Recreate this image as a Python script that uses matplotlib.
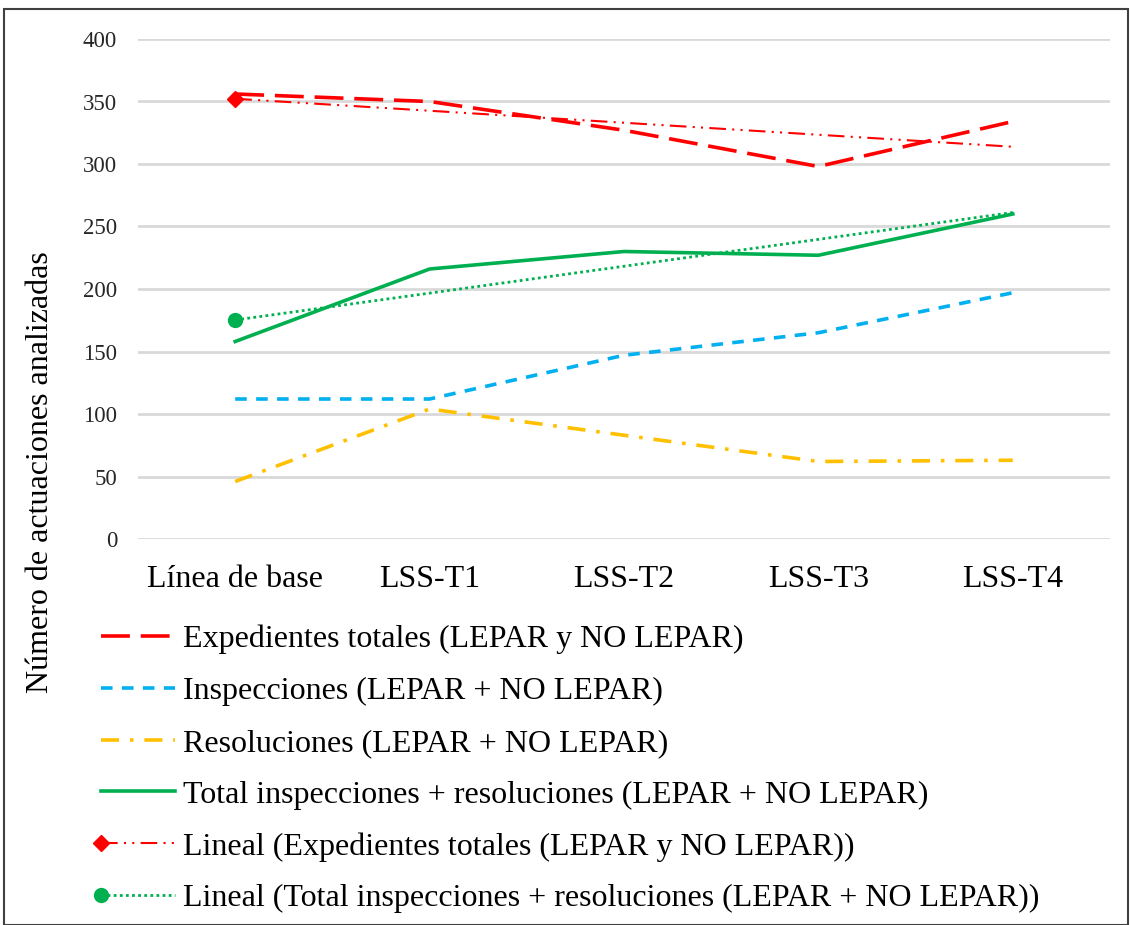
import numpy as np
import matplotlib
matplotlib.use("Agg")
import matplotlib.pyplot as plt
from matplotlib.patches import Rectangle
from matplotlib.legend_handler import HandlerLine2D

categories = ["Línea de base", "LSS-T1", "LSS-T2", "LSS-T3", "LSS-T4"]
expedientes = [356, 350, 327, 298, 334]
inspecciones = [112, 112, 147, 165, 197]
resoluciones = [46, 104, 83, 62, 63]
total = [158, 216, 230, 227, 260]
yticks = [0, 50, 100, 150, 200, 250, 300, 350, 400]

labels = [
    "Expedientes totales (LEPAR y NO LEPAR)",
    "Inspecciones (LEPAR + NO LEPAR)",
    "Resoluciones (LEPAR + NO LEPAR)",
    "Total inspecciones + resoluciones (LEPAR + NO LEPAR)",
    "Lineal (Expedientes totales (LEPAR y NO LEPAR))",
    "Lineal (Total inspecciones + resoluciones (LEPAR + NO LEPAR))",
]

plt.rcParams['font.family'] = ['Liberation Serif', 'DejaVu Serif']


class FirstMarkerHandler(HandlerLine2D):
    def create_artists(self, legend, orig_handle, xdescent, ydescent, width,
                       height, fontsize, trans):
        arts = super().create_artists(legend, orig_handle, xdescent, ydescent,
                                      width, height, fontsize, trans)
        for a in arts:
            if a.get_marker() not in (None, 'None', '', ' '):
                a.set_markevery([0])
        return arts


fig = plt.figure(figsize=(11.32, 9.25), dpi=100)
ax = fig.add_axes([138/1132, 1-539/925, (1110-138)/1132, (539-39)/925])

x = np.arange(len(categories))
RED = "#FF0000"; BLUE = "#00B0F0"; YEL = "#FFC000"; GRN = "#00B050"

ax.plot(x, expedientes, color=RED, lw=2.6, dashes=(8, 3), label=labels[0], zorder=3)
ax.plot(x, inspecciones, color=BLUE, lw=2.6, dashes=(3.2, 2.6), label=labels[1], zorder=3)
ax.plot(x, resoluciones, color=YEL, lw=2.6, dashes=(5, 3, 1, 3), label=labels[2], zorder=3)
ax.plot(x, total, color=GRN, lw=2.6, label=labels[3], zorder=3)

p1 = np.polyfit(x, expedientes, 1)
ax.plot(x, np.polyval(p1, x), color=RED, lw=1.5, dashes=(8, 3, 1, 3, 1, 3),
        marker="D", markersize=8, markevery=[0], label=labels[4], zorder=4)
p2 = np.polyfit(x, total, 1)
ax.plot(x, np.polyval(p2, x), color=GRN, lw=2.0, dashes=(1, 1.2),
        marker="o", markersize=10, markevery=[0], label=labels[5], zorder=4)

ax.set_xlim(-0.5, len(categories) - 0.5)
ax.set_ylim(0, 400)
ax.set_yticks(yticks)
ax.set_xticks(x)
ax.set_xticklabels(categories, fontsize=23)
ax.tick_params(axis='y', labelsize=16.5, length=0, pad=15)
ax.tick_params(axis='x', length=0, pad=19, colors="#000000")
for lab in ax.get_yticklabels():
    lab.set_color("#262626")
ax.grid(axis='y', color="#D9D9D9", lw=2)
ax.set_axisbelow(True)
for s in ax.spines.values():
    s.set_visible(False)

fig.text(41/1132, 1-472/925, "Número de actuaciones analizadas", rotation=90,
         ha='center', va='center', fontsize=23)

leg = fig.legend(loc='upper left', bbox_to_anchor=(101/1132, 1-625/925),
                 frameon=False, fontsize=23, numpoints=2, handlelength=2.32,
                 handletextpad=0.25, labelspacing=0.70, borderaxespad=0,
                 borderpad=0,
                 handler_map={matplotlib.lines.Line2D: FirstMarkerHandler(marker_pad=0)})

fig.patches.append(Rectangle((4/1132, 0), 1124/1132, 1-9/925, transform=fig.transFigure,
                             fill=False, edgecolor="#404040", lw=1.5))

fig.savefig("out.png", dpi=100)
